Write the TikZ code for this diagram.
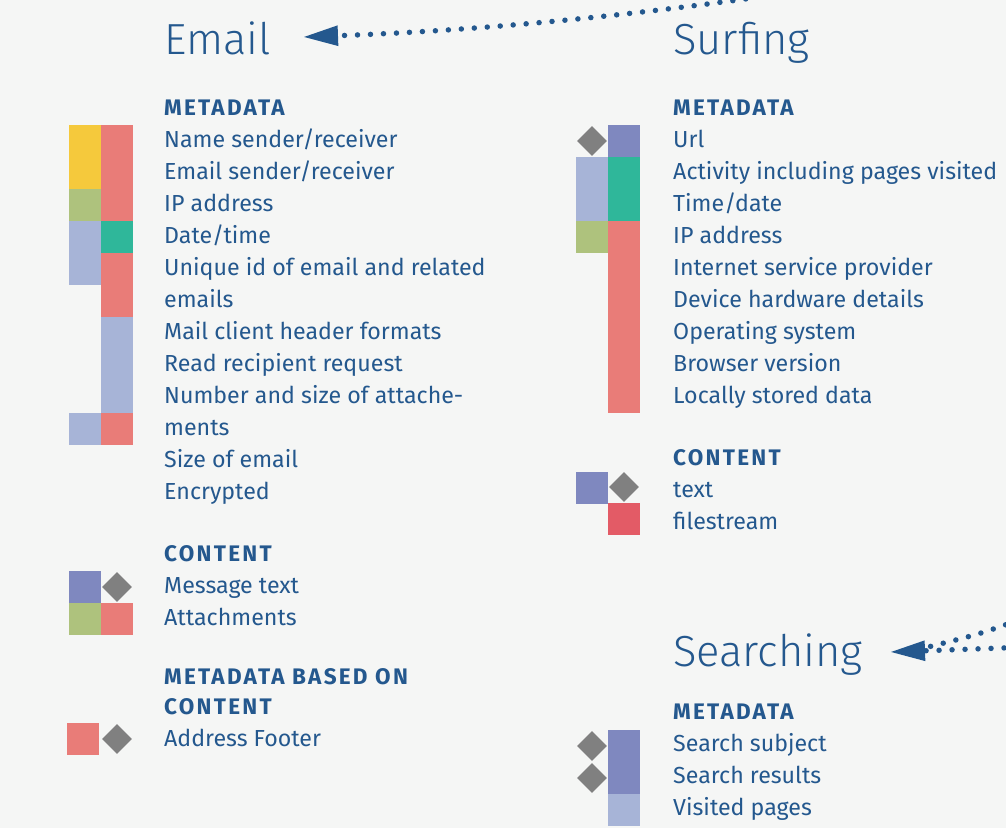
\documentclass[tikz,border=0pt]{standalone}
\usepackage{fontspec}
\usepackage{xcolor}
\setmainfont{Fira Sans}
\newfontfamily\titlefont{Fira Sans Light}
\newfontfamily\headfont{Fira Sans}[LetterSpace=10]
\usetikzlibrary{arrows.meta,shapes.geometric,positioning}

\definecolor{inkblue}{HTML}{24588E}
\definecolor{paper}{HTML}{F5F6F5}
\definecolor{sunyellow}{HTML}{F5C93C}
\definecolor{salmon}{HTML}{E97C78}
\definecolor{olive}{HTML}{AEC27D}
\definecolor{lavender}{HTML}{A7B4D7}
\definecolor{jade}{HTML}{2FB79A}
\definecolor{periwinkle}{HTML}{7F88BF}
\definecolor{slate}{HTML}{808080}
\definecolor{crimson}{HTML}{E35B66}

\tikzset{
  heading/.style={anchor=base west, text=inkblue, inner sep=0, font=\titlefont\fontsize{43.5}{43}\selectfont},
  section/.style={anchor=base west, text=inkblue, inner sep=0, font=\headfont\bfseries\fontsize{22.5}{22}\selectfont},
  item/.style={anchor=base west, text=inkblue, inner sep=0, font=\fontsize{23.2}{32}\selectfont},
  gem/.style={diamond, fill=slate, minimum width=30pt, minimum height=30pt, inner sep=0},
  dotline/.style={inkblue, line width=5.5pt, line cap=round, dash pattern=on 0pt off 13pt}
}

\begin{document}
\begin{tikzpicture}[x=1pt,y=-1pt]
% page
\fill[paper] (0,0) rectangle (1006,828);
\useasboundingbox (0,0) rectangle (1006,828);
\clip (0,0) rectangle (1006,828);

% titles
\node[heading] (email) at (164,54) {Email};
\node[heading] (surfing) at (673,54) {Surfing};
\node[heading] (searching) at (673,666) {Searching};

% Email column
\node[section] (mailmeta) at (164,115) {METADATA};
\foreach \t [count=\i] in {Name sender/receiver, Email sender/receiver, IP address, Date/time,
    Unique id of email and related, emails, Mail client header formats, Read recipient request,
    Number and size of attache-, ments, Size of email, Encrypted}
  \node[item] (mail\i) at (164,{147+32*(\i-1)}) {\t};
\foreach \c/\r/\k in {0/1/sunyellow, 0/2/sunyellow, 0/3/olive, 0/4/lavender, 0/5/lavender, 0/10/lavender,
    1/1/salmon, 1/2/salmon, 1/3/salmon, 1/4/jade, 1/5/salmon, 1/6/salmon,
    1/7/lavender, 1/8/lavender, 1/9/lavender, 1/10/salmon}
  \fill[\k] ({69+32*\c},{125+32*(\r-1)}) rectangle ++(32,32);

\node[section] (mailcontent) at (164,561) {CONTENT};
\node[item] (msgtext) at (164,593) {Message text};
\node[item] (attach) at (164,625) {Attachments};
\fill[periwinkle] (69,571) rectangle ++(32,32);
\node[gem] (msggem) at (117,587) {};
\fill[olive] (69,603) rectangle ++(32,32);
\fill[salmon] (101,603) rectangle ++(32,32);

\node[section] (basedon) at (164,684) {METADATA BASED ON};
\node[section] (basedon2) at (164,714) {CONTENT};
\node[item] (footer) at (164,746) {Address Footer};
\fill[salmon] (67,723) rectangle ++(32,32);
\node[gem] (footgem) at (117,739) {};

% Surfing column
\node[section] (surfmeta) at (673,115) {METADATA};
\foreach \t [count=\i] in {Url, Activity including pages visited, Time/date, IP address,
    Internet service provider, Device hardware details, Operating system, Browser version,
    Locally stored data}
  \node[item] (surf\i) at (673,{147+32*(\i-1)}) {\t};
\node[gem] (urlgem) at (592,141) {};
\foreach \c/\r/\k in {0/2/lavender, 0/3/lavender, 0/4/olive,
    1/1/periwinkle, 1/2/jade, 1/3/jade, 1/4/salmon, 1/5/salmon, 1/6/salmon,
    1/7/salmon, 1/8/salmon, 1/9/salmon}
  \fill[\k] ({576+32*\c},{125+32*(\r-1)}) rectangle ++(32,32);

\node[section] (surfcontent) at (673,465) {CONTENT};
\node[item] (surftext) at (673,497) {text};
\node[item] (filestream) at (673,529) {filestream};
\fill[periwinkle] (576,472) rectangle ++(32,32);
\node[gem] (textgem) at (624,487) {};
\fill[crimson] (608,503) rectangle ++(32,32);

% Searching column
\node[section] (searchmeta) at (673,719) {METADATA};
\node[item] (subject) at (673,751) {Search subject};
\node[item] (results) at (673,783) {Search results};
\node[item] (visited) at (673,815) {Visited pages};
\fill[periwinkle] (608,730) rectangle ++(32,64);
\fill[lavender] (608,794) rectangle ++(32,32);
\node[gem] (subjgem) at (592,746) {};
\node[gem] (resgem) at (592,778) {};

% dotted arrows
\coordinate (mailtip) at (303,37);
\coordinate (farmail) at (900,-24);
\draw[dotline, -{Triangle[length=35pt,width=19pt]}]
  (farmail) .. controls (700,8) and (520,29) .. (mailtip);

\coordinate (searchtip) at (890,652);
\coordinate (searchbase) at (928,647);
\coordinate (farlow) at (1030,647);
\coordinate (farhigh) at (1030,616);
\draw[dotline, -{Triangle[length=35pt,width=19pt]}] (farlow) -- (searchtip);
\draw[dotline] (farhigh) .. controls (980,634) .. (searchbase);
\end{tikzpicture}
\end{document}
